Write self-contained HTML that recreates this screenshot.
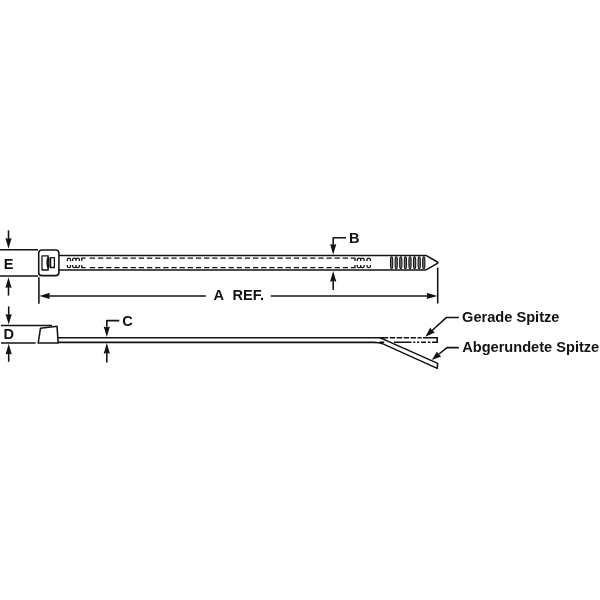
<!DOCTYPE html>
<html>
<head>
<meta charset="utf-8">
<title>Cable tie diagram</title>
<style>
html,body{margin:0;padding:0;background:#fff;}
body{width:600px;height:600px;overflow:hidden;font-family:"Liberation Sans",sans-serif;}
svg{display:block;will-change:transform;}
text{font-family:"Liberation Sans",sans-serif;font-weight:bold;font-size:14.6px;fill:#121212;}
.l{stroke:#121212;stroke-width:1.55;fill:none;stroke-linecap:butt;stroke-linejoin:round;}
.t{stroke:#121212;stroke-width:1.3;fill:none;stroke-linejoin:round;}
.a{fill:#121212;stroke:none;}
.r{stroke:#121212;stroke-width:1.05;fill:#777;}
</style>
</head>
<body>
<svg width="600" height="600" viewBox="0 0 600 600">
<rect width="600" height="600" fill="#ffffff"/>

<!-- E dimension -->
<line class="l" x1="0" y1="249.8" x2="38" y2="249.8"/>
<line class="l" x1="0" y1="276" x2="38" y2="276"/>
<line class="l" x1="8.5" y1="230.3" x2="8.5" y2="241"/>
<path class="a" d="M8.5,248.7 L5.4,238 Q8.5,239.6 11.6,238 Z"/>
<line class="l" x1="8.5" y1="285" x2="8.5" y2="295.6"/>
<path class="a" d="M8.5,277.3 L5.4,288 Q8.5,286.4 11.6,288 Z"/>
<text x="3.7" y="268.6">E</text>

<!-- head top view -->
<rect class="l" x="38.7" y="250" width="20.2" height="25.6" rx="3.2" ry="3.2"/>
<rect x="48" y="258.6" width="2.6" height="8.2" fill="#6a6a6a"/>
<path class="t" d="M48.2,257.8 V255.8 H42 V270 H48.2 V267.8"/>
<path d="M48.5,257.2 Q46.7,262.7 48.5,268.2" stroke="#121212" stroke-width="2.3" fill="none"/>
<rect class="t" x="50.6" y="257.7" width="3.8" height="9.8" stroke-width="1.4"/>
<!-- strap top view -->
<line class="l" x1="58.6" y1="255.4" x2="426" y2="255.4" stroke-width="1.4"/>
<line class="l" x1="58.6" y1="269.95" x2="426" y2="269.95" stroke-width="1.4"/>
<path class="l" d="M426,255.4 L437.4,262 Q438.4,262.7 437.4,263.4 L426,269.95" stroke-width="1.4"/>
<!-- dashed -->
<line class="t" x1="89.8" y1="258.1" x2="348" y2="258.1" stroke-dasharray="5.3,2.86"/>
<line class="t" x1="89.8" y1="267.7" x2="348" y2="267.7" stroke-dasharray="5.3,2.86"/>
<!-- teeth left -->
<path class="t" d="M67.3,260.9 V259.6 Q67.3,258.1 68.9,258.1 Q70.5,258.1 70.5,259.6 V260.9
 M72.6,260.9 V259.6 Q72.6,258.1 74.3,258.1 Q76,258.1 76,259.6 V260.9 M76,259.6 Q76,258.1 77.7,258.1 Q79.4,258.1 79.4,259.6 V260.9
 M81.8,260.9 V258.1 H85.6"/>
<path class="t" d="M67.3,264.9 V266.2 Q67.3,267.7 68.9,267.7 Q70.5,267.7 70.5,266.2 V264.9
 M72.6,264.9 V266.2 Q72.6,267.7 74.3,267.7 Q76,267.7 76,266.2 V264.9 M76,266.2 Q76,267.7 77.7,267.7 Q79.4,267.7 79.4,266.2 V264.9
 M81.8,264.9 V267.7 H85.6"/>
<!-- teeth right -->
<path class="t" d="M350.8,258.1 H355 V260.9
 M357.3,260.9 V259.6 Q357.3,258.1 359,258.1 Q360.7,258.1 360.7,259.6 V260.9 M360.7,259.6 Q360.7,258.1 362.4,258.1 Q364.1,258.1 364.1,259.6 V260.9
 M367,260.9 V259.6 Q367,258.1 368.7,258.1 Q370.4,258.1 370.4,259.6 V260.9"/>
<path class="t" d="M350.8,267.7 H355 V264.9
 M357.3,264.9 V266.2 Q357.3,267.7 359,267.7 Q360.7,267.7 360.7,266.2 V264.9 M360.7,266.2 Q360.7,267.7 362.4,267.7 Q364.1,267.7 364.1,266.2 V264.9
 M367,264.9 V266.2 Q367,267.7 368.7,267.7 Q370.4,267.7 370.4,266.2 V264.9"/>
<!-- ribs -->
<g class="r">
<rect x="390.50" y="256.8" width="2.2" height="11.8" rx="1.1" ry="3.2"/>
<rect x="395.10" y="256.8" width="2.2" height="11.8" rx="1.1" ry="3.2"/>
<rect x="399.70" y="256.8" width="2.2" height="11.8" rx="1.1" ry="3.2"/>
<rect x="404.30" y="256.8" width="2.2" height="11.8" rx="1.1" ry="3.2"/>
<rect x="408.90" y="256.8" width="2.2" height="11.8" rx="1.1" ry="3.2"/>
<rect x="413.50" y="256.8" width="2.2" height="11.8" rx="1.1" ry="3.2"/>
<rect x="418.10" y="256.8" width="2.2" height="11.8" rx="1.1" ry="3.2"/>
<rect x="422.70" y="256.8" width="2.2" height="11.8" rx="1.1" ry="3.2"/>
</g>

<!-- A REF -->
<line class="l" x1="38.9" y1="277.2" x2="38.9" y2="303.7"/>
<line class="l" x1="437.7" y1="267.6" x2="437.7" y2="303.5"/>
<line class="l" x1="48" y1="295.9" x2="205.8" y2="295.9"/>
<line class="l" x1="270.8" y1="295.9" x2="428" y2="295.9"/>
<path class="a" d="M39.3,295.9 L49.9,292.8 Q48.4,295.9 49.9,299 Z"/>
<path class="a" d="M437.4,295.9 L426.6,292.8 Q428.1,295.9 426.6,299 Z"/>
<text x="213.6" y="300.1">A</text>
<text x="232.5" y="300.1">REF.</text>

<!-- B -->
<polyline class="l" points="346,237.8 333.2,237.8 333.2,247" stroke-linejoin="miter"/>
<path class="a" d="M333.2,254.8 L330.1,244.1 Q333.2,245.7 336.3,244.1 Z"/>
<line class="l" x1="333.2" y1="280" x2="333.2" y2="290.1"/>
<path class="a" d="M333.2,271 L330.1,281.7 Q333.2,280.1 336.3,281.7 Z"/>
<text x="348.9" y="242.7">B</text>

<!-- D dimension -->
<line class="l" x1="1" y1="325.4" x2="52" y2="325.4"/>
<line class="l" x1="1" y1="343" x2="35.6" y2="343"/>
<line class="l" x1="8.7" y1="306.4" x2="8.7" y2="317"/>
<path class="a" d="M8.7,324.6 L5.6,313.9 Q8.7,315.5 11.8,313.9 Z"/>
<line class="l" x1="8.7" y1="352" x2="8.7" y2="361.8"/>
<path class="a" d="M8.7,343.8 L5.6,354.5 Q8.7,352.9 11.8,354.5 Z"/>
<text x="3.5" y="339.3">D</text>

<!-- head side -->
<path class="l" d="M38.2,343 L40.5,328.2 L57,326.3 L58.2,343 Z"/>
<!-- strap side -->
<path class="l" d="M58.2,337.8 H381"/>
<path class="l" d="M58.2,342.35 H374 Q379,342.35 383,343.9 L437.2,368.4 L437.7,363.4 L386,340.4 Q383.5,338.8 380,337.9" stroke-linejoin="miter"/>
<path class="l" d="M379.5,342.2 H384.2"/>
<!-- straight tip -->
<path class="l" d="M381,337.7 H388.2 M389.8,337.7 H395.2 M396.7,337.7 H402.2 M403.7,337.7 H409.1 M410.6,337.7 H416 M417.5,337.7 H421.7 M423,337.7 H437.3"/>
<path class="l" d="M394,342.3 H411.5 M413.2,342.3 H415.3 M417,342.3 H419.2 M421,342.3 H426 M427.8,342.3 H430.4 M432,342.3 H437.3"/>
<line class="l" x1="437.2" y1="336.95" x2="437.2" y2="343.05"/>

<!-- C -->
<polyline class="l" points="119.3,320.6 106.8,320.6 106.8,330" stroke-linejoin="miter"/>
<path class="a" d="M106.8,337.1 L103.7,326.5 Q106.8,328.1 109.9,326.5 Z"/>
<line class="l" x1="106.8" y1="352" x2="106.8" y2="362.4"/>
<path class="a" d="M106.8,343.1 L103.7,353.7 Q106.8,352.1 109.9,353.7 Z"/>
<text x="122.3" y="325.8">C</text>

<!-- leaders -->
<polyline class="l" points="458.8,317.4 446.5,317.4 431.8,330.8" stroke-linejoin="miter"/>
<path class="a" d="M425.4,336.7 L430.3,327.6 Q431.5,331 434.8,332.5 Z"/>
<polyline class="l" points="458.8,347.6 447,347.6 438.4,354.5" stroke-linejoin="miter"/>
<path class="a" d="M431.8,359.9 L437,351.4 Q438,354.8 441.2,356.5 Z"/>
<text x="462.1" y="322.25">Gerade Spitze</text>
<text x="462.2" y="352.2">Abgerundete Spitze</text>
</svg>
</body>
</html>
